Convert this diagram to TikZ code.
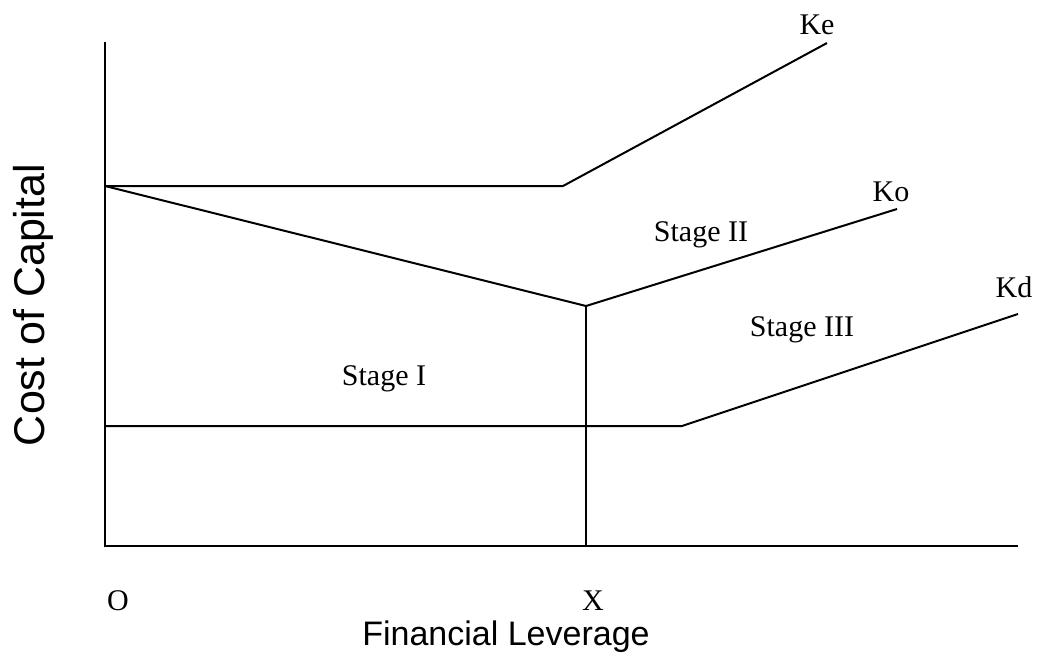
\documentclass[tikz,border=0pt]{standalone}
\usepackage{fontspec}
\setmainfont{Liberation Serif}
\setsansfont{Liberation Sans}
\begin{document}
\begin{tikzpicture}[x=0.5pt,y=-0.5pt,
  curve/.style={line width=1pt,line join=miter},
  lbl/.style={font=\fontsize{15}{18}\selectfont,anchor=base,inner sep=0pt},
  axlbl/.style={font=\sffamily\fontsize{17}{20}\selectfont,inner sep=0pt}]
\useasboundingbox (0,0) rectangle (1037,655);
% key points
\coordinate (top) at (105,42);
\coordinate (O) at (105,546);
\coordinate (xend) at (1018,546);
\coordinate (A) at (105,186);
\coordinate (keb) at (563,186);
\coordinate (kee) at (827,43);
\coordinate (kob) at (586,306);
\coordinate (koe) at (897,209);
\coordinate (xb) at (586,546);
\coordinate (D) at (105,426);
\coordinate (kdb) at (682,426);
\coordinate (kde) at (1018,314);
% axes
\draw[curve] (top) -- (O) -- (xend);
% curves
\draw[curve] (A) -- (keb) -- (kee);
\draw[curve] (A) -- (kob) -- (koe);
\draw[curve] (kob) -- (xb);
\draw[curve] (D) -- (kdb) -- (kde);
% labels
\node[lbl] (ke) at (817,34) {Ke};
\node[lbl] (ko) at (891,201) {Ko};
\node[lbl] (kd) at (1014,297) {Kd};
\node[lbl] (s2) at (701,241) {Stage II};
\node[lbl] (s3) at (802,336) {Stage III};
\node[lbl] (s1) at (384,385) {Stage I};
\node[lbl] (o) at (118,610) {O};
\node[lbl] (x) at (593,610) {X};
\node[axlbl,anchor=base] (fl) at (506,645) {Financial Leverage};
\node[axlbl,font=\sffamily\fontsize{21.5}{24}\selectfont,rotate=90,anchor=base] (cc) at (44,305) {Cost of Capital};
\end{tikzpicture}
\end{document}
